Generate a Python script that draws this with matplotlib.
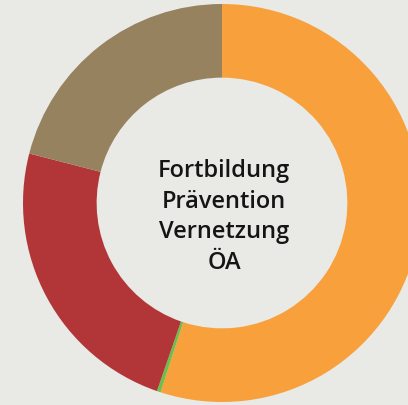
import matplotlib
matplotlib.use("Agg")
from matplotlib import pyplot as plt

# segments clockwise from 12 o'clock
LABELS = ["A", "B", "C", "D"]
VALUES = [55.0, 0.3, 23.7, 21.0]
COLORS = ["#F8A03C", "#6CBF48", "#B23638", "#978260"]
CENTER_TEXT = "Fortbildung\nPrävention\nVernetzung\nÖA"
BG = "#E9E9E5"

fig = plt.figure(figsize=(4.08, 4.06), dpi=100, facecolor=BG)
# axes box centred on the ring, 398 px across
ax = fig.add_axes([23 / 408, 3 / 406, 398 / 408, 398 / 406])
ax.set_facecolor(BG)

ax.pie(VALUES, colors=COLORS, startangle=90, counterclock=False,
       radius=1.0, wedgeprops=dict(width=0.37, linewidth=0))
ax.set_xlim(-1, 1)
ax.set_ylim(-1, 1)
ax.set_aspect("auto")
ax.axis("off")

ax.text(0.01, -0.065, CENTER_TEXT, ha="center", va="center",
        fontsize=17, fontweight="semibold", color="#151515",
        linespacing=1.36, family="Open Sans")

fig.savefig("out.png", dpi=100, facecolor=BG)
